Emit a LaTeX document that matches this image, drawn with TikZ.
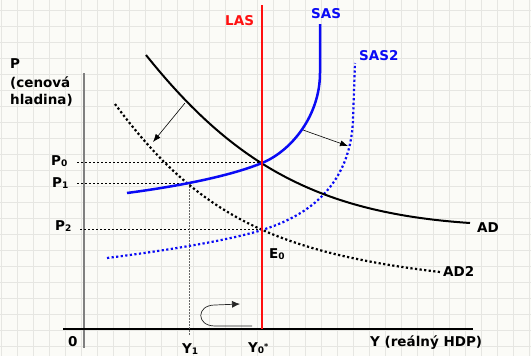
\documentclass[tikz,border=0pt]{standalone}
\usepackage{fontspec}
\setmainfont{DejaVu Sans}
\usetikzlibrary{arrows.meta}
\definecolor{bgc}{HTML}{FBFBF7}
\definecolor{gridc}{HTML}{E6E6E2}
\definecolor{lasred}{HTML}{FF1010}
\definecolor{sasblue}{HTML}{0A0AF5}
\newcommand{\sbs}[1]{\raisebox{-1pt}{\fontsize{9}{9}\selectfont #1}}
\begin{document}
\begin{tikzpicture}[x=1pt,y=-1pt,
  lab/.style={font=\fontsize{13.5}{15}\selectfont\bfseries, inner sep=0pt, anchor=base west},
  guide/.style={black, line width=0.7pt, dash pattern=on 2pt off 2pt},
  dotcurve/.style={line width=2.2pt, dash pattern=on 2.2pt off 2.4pt},
  shiftarrow/.style={line width=0.6pt, -{Latex[length=8pt,width=6pt]}}]
\fill[bgc] (0,0) rectangle (531,356);
\useasboundingbox (0,0) rectangle (531,356);
\foreach \x in {1,17,...,529} \draw[gridc, line width=0.6pt] (\x,0) -- (\x,356);
\foreach \y in {10,26,...,354} \draw[gridc, line width=0.6pt] (0,\y) -- (531,\y);

% axes
\draw[gray, line width=2pt] (84,73) -- (84,348);
\draw[black, line width=1.2pt] (63,329) -- (473,329);

% guides
\draw[guide] (77,162) -- (262,162);
\draw[guide] (77,183) -- (190,183);
\draw[guide] (80,229) -- (262,229);
\draw[gray!80!black, line width=0.8pt, dash pattern=on 1.5pt off 1.5pt] (189,183) -- (189,336);

% AD2 (dotted black)
\draw[dotcurve, black] (115,104) .. controls (195,212) and (270,252) .. (440,272);
% SAS2 (dotted blue)
\draw[dotcurve, sasblue] (107,258) .. controls (170,250) and (230,240) .. (262,230)
   .. controls (295,219.7) and (350,195) .. (353,120) -- (355,63);
% AD
\draw[black, line width=2pt] (146,55) .. controls (234.5,165.6) and (320,213) .. (470,223);
% SAS
\draw[sasblue, line width=2.5pt] (127,193) .. controls (180,186) and (230,176) .. (262,163)
   .. controls (292,150.7) and (320,115) .. (320,73) -- (320,24);
% LAS
\draw[lasred, line width=2pt] (262,5) -- (262,329);

% shift arrows
\coordinate (a1s) at (185,103);
\coordinate (a1e) at (153,142);
\draw[shiftarrow] (a1s) -- (a1e);
\coordinate (a2s) at (303,130);
\coordinate (a2e) at (348,146);
\draw[shiftarrow] (a2s) -- (a2e);

% cycle arrow
\coordinate (cs) at (252,326);
\coordinate (ce) at (240,304);
\draw[black!85, line width=0.7pt, -{Latex[length=8pt,width=7pt]}] (cs) -- (215,326) .. controls (196,326) and (196,305) .. (215,305) -- (ce);

% labels
\node[lab] (lP) at (10,68) {P};
\node[lab] (lc) at (10,87) {(cenová};
\node[lab] (lh) at (10,104) {hladina)};
\node[lab] (lP0) at (51,165) {P\sbs{0}};
\node[lab] (lP1) at (52,187) {P\sbs{1}};
\node[lab] (lP2) at (55,230) {P\sbs{2}};
\node[lab] (l0) at (68,346) {0};
\node[lab] (lY1) at (182,353) {Y\sbs{1}};
\node[lab] (lY0) at (248,352) {Y\sbs{0}\raisebox{3pt}{\fontsize{8}{8}\selectfont *}};
\node[lab] (lY) at (370,346) {Y (reálný HDP)};
\node[lab, text=lasred] (lLAS) at (225,26) {LAS};
\node[lab, text=sasblue] (lSAS) at (311,19) {SAS};
\node[lab, text=sasblue] (lSAS2) at (359,60) {SAS2};
\node[lab] (lAD) at (477,232) {AD};
\node[lab] (lAD2) at (443,276) {AD2};
\node[lab] (lE0) at (269,258) {E\sbs{0}};
\end{tikzpicture}
\end{document}
